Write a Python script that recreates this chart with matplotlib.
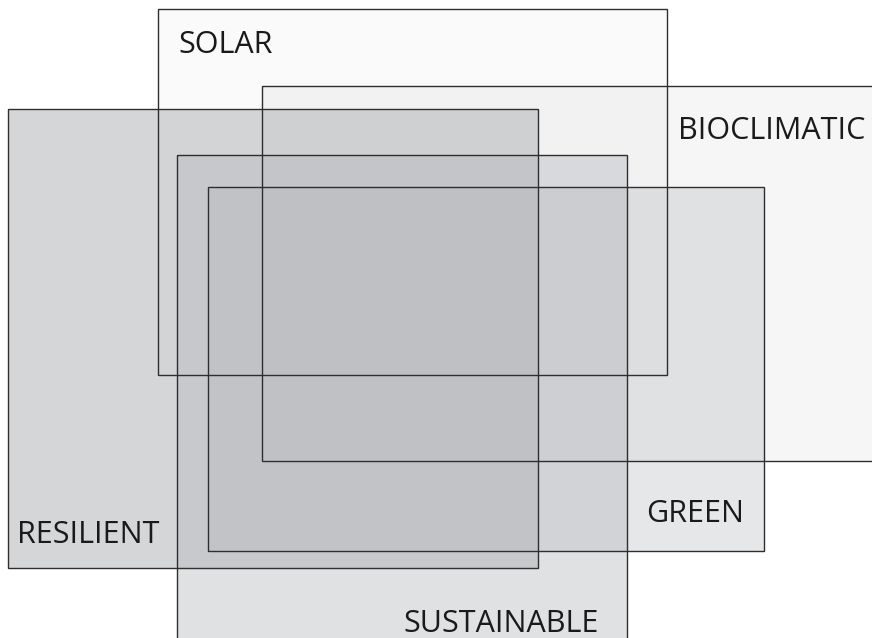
import matplotlib.pyplot as plt
from matplotlib.patches import Rectangle

# Overlapping concept boxes, in image pixel units (x0, y0 = top-left)
labels = ['RESILIENT', 'SUSTAINABLE', 'GREEN', 'BIOCLIMATIC', 'SOLAR']
x0 = [8, 177, 208, 262, 158]
y0 = [109, 155, 187, 86, 9]
x1 = [538, 627, 764, 880, 667]
y1 = [568, 645, 551, 461, 375]
shade = [0.57, 0.41, 0.33, 0.12, 0.06]

# where each label sits (left edge, baseline)
label_x = [17, 403, 646, 678, 178]
label_y = [543, 632, 522, 139, 53]

fig = plt.figure(figsize=(8.72, 6.38), dpi=100)
ax = fig.add_axes([0, 0, 1, 1])
ax.set_xlim(0, 872)
ax.set_ylim(638, 0)
ax.axis('off')

# light gray fills so overlaps saturate instead of going dark
for i in range(len(labels)):
    ax.add_patch(Rectangle((x0[i], y0[i]), x1[i] - x0[i], y1[i] - y0[i],
                           facecolor='#b6b8bc', alpha=shade[i], edgecolor='none'))
# outlines on top
for i in range(len(labels)):
    ax.add_patch(Rectangle((x0[i], y0[i]), x1[i] - x0[i], y1[i] - y0[i],
                           facecolor='none', edgecolor='#2e2e2e', linewidth=1.0))

for i in range(len(labels)):
    ax.text(label_x[i], label_y[i], labels[i], ha='left', va='baseline',
            fontsize=22, family='Open Sans', color='#1a1a1a')

fig.savefig('out.png', dpi=100)
